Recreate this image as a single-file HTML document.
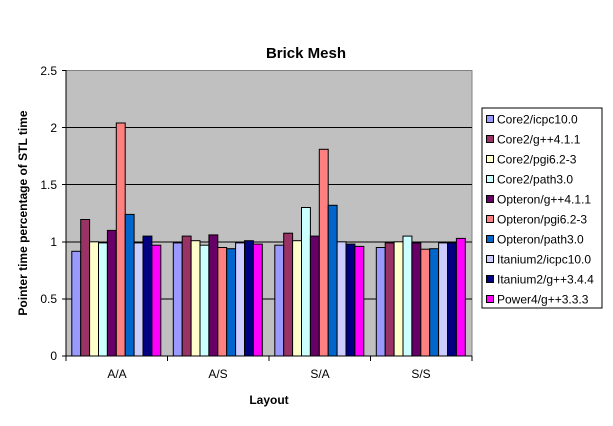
<!DOCTYPE html>
<html><head><style>body{margin:0;background:#fff}svg text{font-family:"Liberation Sans",Arial,sans-serif}</style></head><body>
<svg width="613" height="421" xmlns="http://www.w3.org/2000/svg">
<rect width="613" height="421" fill="#fff"/>
<text x="306" y="58" font-size="15" font-weight="bold" text-anchor="middle">Brick Mesh</text>
<rect x="66" y="70.5" width="406" height="285.5" fill="#c0c0c0" stroke="#808080"/>
<g stroke="#000" stroke-width="1">
<line x1="66" x2="472" y1="127.5" y2="127.5"/><line x1="66" x2="472" y1="184.5" y2="184.5"/><line x1="66" x2="472" y1="242" y2="242"/><line x1="66" x2="472" y1="299" y2="299"/>
<line x1="66" x2="66" y1="70" y2="356"/><line x1="62" x2="472" y1="356" y2="356"/>
<line x1="62" x2="66" y1="70.5" y2="70.5"/><line x1="62" x2="66" y1="127.5" y2="127.5"/><line x1="62" x2="66" y1="184.5" y2="184.5"/><line x1="62" x2="66" y1="242" y2="242"/><line x1="62" x2="66" y1="299" y2="299"/>
<line x1="66" x2="66" y1="356" y2="361"/><line x1="167.5" x2="167.5" y1="356" y2="361"/><line x1="269" x2="269" y1="356" y2="361"/><line x1="370.5" x2="370.5" y1="356" y2="361"/><line x1="472" x2="472" y1="356" y2="361"/>
</g>
<g font-size="12" text-anchor="end">
<text x="57" y="75">2.5</text><text x="57" y="132">2</text><text x="57" y="189">1.5</text><text x="57" y="246">1</text><text x="57" y="303">0.5</text><text x="57" y="360">0</text>
</g>
<g font-size="12" text-anchor="middle">
<text x="117" y="378">A/A</text><text x="218" y="378">A/S</text><text x="320" y="378">S/A</text><text x="421" y="378">S/S</text>
</g>
<text x="269" y="404" font-size="12" font-weight="bold" text-anchor="middle">Layout</text>
<text transform="translate(27,213) rotate(-90)" font-size="12" font-weight="bold" text-anchor="middle">Pointer time percentage of STL time</text>
<g id="bars" stroke="#000" stroke-width="1"></g>
<rect x="482" y="108" width="120" height="200" fill="#fff" stroke="#000"/>
<g id="leg" font-size="12"></g>
</svg>
<script>
var cols=["#9999ff","#993366","#ffffcc","#ccffff","#660066","#ff8080","#0066cc","#ccccff","#000080","#ff00ff"];
var names=["Core2/icpc10.0","Core2/g++4.1.1","Core2/pgi6.2-3","Core2/path3.0","Opteron/g++4.1.1","Opteron/pgi6.2-3","Opteron/path3.0","Itanium2/icpc10.0","Itanium2/g++3.4.4","Power4/g++3.3.3"];
var d=[[0.917,1.195,1.0,0.99,1.10,2.04,1.24,0.99,1.05,0.97],[0.99,1.05,1.01,0.97,1.06,0.95,0.94,0.99,1.01,0.98],[0.97,1.075,1.01,1.30,1.05,1.81,1.32,1.0,0.98,0.96],[0.95,0.99,1.0,1.05,0.99,0.935,0.94,0.99,0.99,1.03]];
var g=document.getElementById("bars"),s="";
for(var c=0;c<4;c++)for(var i=0;i<10;i++){var x=66+c*101.5+5.8+i*8.9,h=d[c][i]*114.2;s+='<rect x="'+x.toFixed(1)+'" y="'+(356-h).toFixed(1)+'" width="8.9" height="'+h.toFixed(1)+'" fill="'+cols[i]+'"/>';}
g.innerHTML=s;s="";
for(var i=0;i<10;i++){var y=116+i*20;s+='<rect x="486.5" y="'+(y-0.5)+'" width="7" height="7" fill="'+cols[i]+'" stroke="#000"/><text x="497" y="'+(y+7.5)+'">'+names[i]+'</text>';}
document.getElementById("leg").innerHTML=s;
</script>
</body></html>
